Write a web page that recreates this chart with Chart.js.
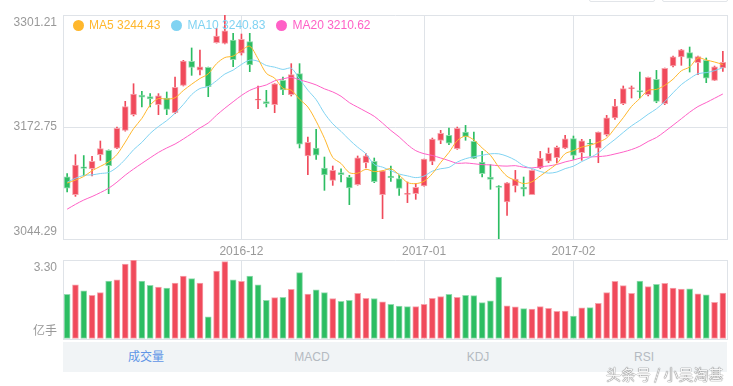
<!DOCTYPE html>
<html>
<head>
<meta charset="utf-8">
<title>K线</title>
<script src="https://cdn.jsdelivr.net/npm/chart.js@4.4.1/dist/chart.umd.min.js"></script>
<style>
  html, body { margin: 0; padding: 0; background: #fff; }
  body {
    width: 733px; height: 386px; position: relative; overflow: hidden;
    font-family: Arial, 'Liberation Sans', 'Noto Sans CJK SC', sans-serif;
  }
  #priceWrap { position: absolute; left: 0; top: 0; width: 733px; height: 258px; }
  #volWrap { position: absolute; left: 0; top: 256px; width: 733px; height: 86px; }
  #legend {
    position: absolute; left: 73px; top: 18px; display: flex;
    font-size: 12px; line-height: 14px; white-space: nowrap;
  }
  #legend .item { display: flex; align-items: center; margin-right: 11px; }
  #legend .dot { width: 11px; height: 11px; border-radius: 50%; margin-right: 5px; }
  #tabs {
    position: absolute; left: 63px; top: 342px; width: 664px; height: 30px;
    background: #f1f4f6; display: flex;
  }
  #tabs span {
    flex: 1; text-align: center; line-height: 30px; font-size: 12px; color: #b4bac1;
  }
  #tabs span.active { color: #6095e6; }
  .btn {
    position: absolute; top: -20px; width: 64px; height: 20px;
    border: 1px solid #e2e5e9; border-radius: 2px; background: #fff;
  }
  #mark {
    position: absolute; left: 606px; top: 365px; font-size: 15px; line-height: 18px;
    color: rgba(255, 255, 255, 0.95);
    text-shadow: 0 0 1px rgba(0, 0, 0, 0.6), 0 0 1px rgba(0, 0, 0, 0.6);
    font-family: 'Noto Sans CJK SC', sans-serif; white-space: nowrap;
  }
</style>
</head>
<body>
<div class="btn" style="left:589px"></div>
<div class="btn" style="left:662px"></div>
<div id="priceWrap"><canvas id="priceChart"></canvas></div>
<div id="volWrap"><canvas id="volumeChart"></canvas></div>
<div id="legend"></div>
<div id="tabs"><span class="active">成交量</span><span>MACD</span><span>KDJ</span><span>RSI</span></div>
<div id="mark">头条号 / 小吴淘基</div>

<script>
// trading days shown (2016-11-02 .. 2017-03-01)
const dates = [
    '2016-11-02', '2016-11-03', '2016-11-04', '2016-11-07', '2016-11-08', '2016-11-09', '2016-11-10', '2016-11-11', '2016-11-14', '2016-11-15',
    '2016-11-16', '2016-11-17', '2016-11-18', '2016-11-21', '2016-11-22', '2016-11-23', '2016-11-24', '2016-11-25', '2016-11-28', '2016-11-29',
    '2016-11-30', '2016-12-01', '2016-12-02', '2016-12-05', '2016-12-06', '2016-12-07', '2016-12-08', '2016-12-09', '2016-12-12', '2016-12-13',
    '2016-12-14', '2016-12-15', '2016-12-16', '2016-12-19', '2016-12-20', '2016-12-21', '2016-12-22', '2016-12-23', '2016-12-26', '2016-12-27',
    '2016-12-28', '2016-12-29', '2016-12-30', '2017-01-03', '2017-01-04', '2017-01-05', '2017-01-06', '2017-01-09', '2017-01-10', '2017-01-11',
    '2017-01-12', '2017-01-13', '2017-01-16', '2017-01-17', '2017-01-18', '2017-01-19', '2017-01-20', '2017-01-23', '2017-01-24', '2017-01-25',
    '2017-01-26', '2017-02-03', '2017-02-06', '2017-02-07', '2017-02-08', '2017-02-09', '2017-02-10', '2017-02-13', '2017-02-14', '2017-02-15',
    '2017-02-16', '2017-02-17', '2017-02-20', '2017-02-21', '2017-02-22', '2017-02-23', '2017-02-24', '2017-02-27', '2017-02-28', '2017-03-01'
];

const opens = [
    3115.5, 3095.1, 3127.0, 3124.9, 3141.0, 3145.9, 3148.6, 3168.9, 3186.9, 3209.5,
    3207.5, 3198.4, 3206.0, 3189.2, 3220.5, 3248.0, 3238.0, 3241.2, 3269.4, 3268.7,
    3272.5, 3257.3, 3270.6, 3203.5, 3201.8, 3198.4, 3226.3, 3209.8, 3233.9, 3139.5,
    3148.7, 3125.7, 3111.6, 3120.5, 3115.4, 3106.6, 3131.8, 3133.4, 3095.1, 3116.6,
    3113.5, 3095.5, 3096.3, 3105.1, 3133.4, 3157.5, 3163.2, 3147.9, 3167.0, 3156.3,
    3132.6, 3115.4, 3105.1, 3086.7, 3105.1, 3103.9, 3095.1, 3125.7, 3133.7, 3137.6,
    3148.6, 3159.4, 3143.3, 3154.2, 3148.6, 3163.9, 3183.1, 3199.5, 3216.7, 3214.5,
    3209.8, 3227.4, 3199.5, 3242.7, 3253.0, 3258.0, 3246.5, 3249.2, 3226.3, 3240.4
];
const highs = [
    3119.2, 3141.0, 3140.0, 3139.1, 3156.7, 3146.5, 3172.7, 3202.2, 3222.4, 3213.6,
    3211.0, 3211.0, 3212.9, 3230.1, 3249.2, 3263.4, 3261.1, 3241.5, 3285.9, 3301.21,
    3280.2, 3279.4, 3280.2, 3219.8, 3214.8, 3222.5, 3230.1, 3245.4, 3245.4, 3161.3,
    3170.1, 3138.3, 3128.0, 3124.9, 3117.3, 3139.5, 3142.2, 3137.2, 3122.6, 3128.0,
    3117.3, 3109.7, 3107.8, 3136.0, 3160.1, 3168.9, 3171.6, 3172.7, 3174.6, 3167.0,
    3144.8, 3129.5, 3105.5, 3109.0, 3123.0, 3115.4, 3123.5, 3144.8, 3148.7, 3151.0,
    3163.2, 3162.4, 3158.6, 3158.6, 3167.0, 3186.1, 3204.5, 3219.8, 3219.8, 3235.8,
    3230.1, 3237.7, 3240.4, 3254.2, 3261.8, 3264.5, 3254.2, 3251.9, 3242.7, 3259.5
];
const lows = [
    3098.2, 3093.2, 3117.0, 3116.6, 3134.5, 3096.3, 3147.9, 3168.0, 3185.4, 3195.7,
    3195.7, 3186.9, 3186.9, 3188.0, 3219.8, 3232.0, 3232.4, 3207.5, 3269.0, 3268.0,
    3241.9, 3255.3, 3236.2, 3193.8, 3195.7, 3189.2, 3209.8, 3208.3, 3148.7, 3118.1,
    3135.6, 3100.1, 3105.8, 3109.7, 3083.7, 3106.0, 3125.7, 3108.9, 3067.6, 3110.4,
    3094.4, 3086.0, 3089.8, 3105.0, 3129.5, 3153.6, 3152.5, 3147.1, 3157.5, 3136.4,
    3115.4, 3101.3, 3044.29, 3071.4, 3098.2, 3093.6, 3095.0, 3124.9, 3131.8, 3131.8,
    3147.9, 3135.6, 3134.5, 3139.5, 3131.8, 3162.4, 3181.5, 3198.4, 3206.0, 3206.0,
    3208.3, 3200.6, 3198.4, 3241.6, 3243.5, 3235.8, 3232.8, 3223.6, 3226.0, 3236.6
];
const closes = [
    3102.73, 3128.94, 3125.32, 3133.33, 3147.89, 3128.37, 3171.28, 3196.04, 3210.37, 3206.99,
    3205.06, 3208.45, 3192.86, 3218.15, 3248.35, 3241.14, 3241.74, 3219.00, 3277.00, 3282.92,
    3250.03, 3273.31, 3243.84, 3204.71, 3199.65, 3222.24, 3215.37, 3232.88, 3152.97, 3155.04,
    3140.53, 3117.68, 3122.98, 3118.08, 3102.88, 3137.43, 3139.56, 3110.15, 3122.57, 3114.66,
    3102.24, 3096.10, 3103.64, 3135.92, 3158.79, 3165.41, 3154.32, 3171.24, 3161.67, 3136.75,
    3119.29, 3112.76, 3103.43, 3108.77, 3113.01, 3101.30, 3123.14, 3136.77, 3142.55, 3149.55,
    3159.17, 3140.17, 3156.98, 3153.09, 3166.98, 3183.18, 3196.70, 3216.84, 3217.93, 3212.99,
    3229.62, 3202.08, 3239.96, 3253.33, 3261.22, 3251.38, 3253.43, 3228.66, 3241.73, 3246.93
];

const ma5 = [
    3108.5, 3111.8, 3116.0, 3122.6, 3127.6, 3132.8, 3141.2, 3155.4, 3170.8, 3182.6,
    3197.9, 3205.4, 3204.7, 3206.3, 3214.6, 3221.8, 3228.4, 3233.7, 3245.4, 3252.4,
    3254.1, 3260.5, 3265.4, 3251.0, 3234.3, 3228.8, 3217.2, 3215.0, 3204.6, 3195.7,
    3179.4, 3159.8, 3137.8, 3130.9, 3120.4, 3119.8, 3124.2, 3121.6, 3122.5, 3124.9,
    3117.8, 3109.1, 3107.8, 3110.5, 3119.3, 3132.0, 3143.6, 3157.1, 3162.3, 3157.9,
    3148.7, 3140.3, 3126.8, 3116.2, 3111.5, 3107.9, 3109.9, 3116.6, 3123.4, 3130.7,
    3142.2, 3145.6, 3149.7, 3151.8, 3155.3, 3160.1, 3171.4, 3183.4, 3196.3, 3205.5,
    3214.8, 3215.9, 3220.5, 3227.6, 3237.2, 3241.6, 3251.9, 3249.6, 3247.3, 3244.43
];
const ma10 = [
    3109.4, 3113.9, 3117.3, 3117.8, 3119.4, 3120.6, 3126.5, 3135.7, 3146.7, 3155.1,
    3165.4, 3173.3, 3180.1, 3188.5, 3198.6, 3209.9, 3216.9, 3219.2, 3225.9, 3233.5,
    3238.0, 3244.5, 3249.5, 3248.2, 3243.3, 3241.4, 3238.8, 3240.2, 3227.8, 3215.0,
    3204.1, 3188.5, 3176.4, 3167.7, 3158.1, 3149.6, 3142.0, 3129.7, 3126.7, 3122.7,
    3118.8, 3116.7, 3114.7, 3116.5, 3122.1, 3124.9, 3126.4, 3132.5, 3136.4, 3138.6,
    3140.3, 3142.0, 3142.0, 3139.2, 3134.7, 3128.3, 3125.1, 3121.7, 3119.8, 3121.1,
    3125.0, 3127.8, 3133.1, 3137.6, 3143.0, 3151.2, 3158.5, 3166.5, 3174.1, 3180.4,
    3187.4, 3193.6, 3201.9, 3212.0, 3221.4, 3228.2, 3233.9, 3235.1, 3237.4, 3240.83
];
const ma20 = [
    3078.5, 3084.0, 3089.0, 3093.0, 3097.5, 3102.5, 3109.5, 3117.5, 3124.5, 3131.0,
    3137.4, 3143.6, 3148.7, 3153.2, 3159.0, 3165.2, 3171.7, 3177.4, 3186.3, 3194.3,
    3201.7, 3208.9, 3214.8, 3218.4, 3221.0, 3225.7, 3227.9, 3229.7, 3226.8, 3224.2,
    3221.0, 3216.5, 3213.0, 3208.0, 3200.7, 3195.5, 3190.4, 3185.0, 3177.2, 3168.8,
    3161.4, 3152.6, 3145.6, 3142.1, 3140.1, 3137.2, 3134.2, 3131.1, 3131.5, 3130.6,
    3129.6, 3129.3, 3128.3, 3127.9, 3128.4, 3126.6, 3125.8, 3127.1, 3128.1, 3129.8,
    3132.7, 3134.9, 3137.5, 3138.4, 3138.8, 3139.7, 3141.8, 3144.1, 3146.9, 3150.7,
    3156.2, 3160.7, 3167.5, 3174.8, 3182.2, 3189.7, 3196.2, 3200.8, 3205.7, 3210.62
];

// volume, 亿手
const volumes = [
    1.87, 2.26, 2.01, 1.82, 1.94, 2.42, 2.47, 3.13, 3.30, 2.42,
    2.24, 2.17, 2.13, 2.34, 2.63, 2.52, 2.34, 0.93, 2.84, 3.23,
    2.47, 2.41, 2.63, 2.26, 1.62, 1.73, 1.74, 2.08, 2.77, 1.88,
    2.05, 1.94, 1.69, 1.57, 1.62, 1.91, 1.70, 1.69, 1.55, 1.45,
    1.38, 1.35, 1.35, 1.45, 1.70, 1.77, 1.87, 1.74, 1.82, 1.81,
    1.52, 1.59, 2.59, 1.39, 1.34, 1.27, 1.25, 1.35, 1.28, 1.16,
    1.17, 0.96, 1.30, 1.31, 1.49, 1.94, 2.41, 2.23, 1.91, 2.42,
    2.19, 2.28, 2.33, 2.13, 2.09, 2.10, 1.89, 1.85, 1.53, 1.92
];

const priceTicks = [3044.29, 3172.75, 3301.21];
const volumeTicks = [0, 3.30];
const volumeUnit = '亿手';
const monthTicks = ['2016-12-01', '2017-01-03', '2017-02-03'];
const maNames = ['MA5', 'MA10', 'MA20'];

document.addEventListener('DOMContentLoaded', () => {
    const UP = '#f04a5b', DOWN = '#2cbd62';
    const UP_EDGE = '#f7a3ac', DOWN_EDGE = '#93dcb0';
    const MA_COLORS = ['#ffb72c', '#80d3f2', '#ff60c6'];
    const GRID = '#dfe3e8';
    const LABEL = '#999999';

    Chart.defaults.font.family = "Arial, 'Liberation Sans', 'Noto Sans CJK SC', sans-serif";
    Chart.defaults.font.size = 12;
    Chart.defaults.animation = false;

    const candleUp = dates.map((d, i) => closes[i] >= opens[i]);
    // volume bars follow the change against the previous close
    const volUp = dates.map((d, i) => i === 0 ? closes[0] >= opens[0] : closes[i] >= closes[i - 1]);

    const monthGrid = (ctx) => monthTicks.includes(dates[ctx.index]) ? GRID : 'rgba(0,0,0,0)';

    // labels sit inside the panel, so the axis must not reserve room for them
    const fixYAxis = (scale) => {
        scale.width = 63;
        scale.paddingTop = 0;
        scale.paddingBottom = 0;
    };

    const rightBorder = {
        position: 'right',
        grid: { drawOnChartArea: false, drawTicks: false, color: 'rgba(0,0,0,0)' },
        ticks: { display: false },
        border: { color: GRID },
        afterFit(scale) { scale.width = 0; scale.paddingTop = 0; scale.paddingBottom = 0; }
    };

    // price panel
    const maSets = [ma5, ma10, ma20].map((data, k) => ({
        type: 'line',
        label: maNames[k],
        data: data,
        borderColor: MA_COLORS[k],
        borderWidth: 1,
        pointRadius: 0,
        tension: 0.3,
        order: 0
    }));

    new Chart(document.getElementById('priceChart'), {
        type: 'bar',
        data: {
            labels: dates,
            datasets: [
                ...maSets,
                {
                    label: 'body',
                    data: dates.map((d, i) => [opens[i], closes[i]]),
                    backgroundColor: candleUp.map(u => u ? UP : DOWN),
                    borderColor: candleUp.map(u => u ? UP_EDGE : DOWN_EDGE),
                    borderWidth: 1,
                    borderSkipped: false,
                    barThickness: 6,
                    minBarLength: 1,
                    grouped: false,
                    order: 1
                },
                {
                    label: 'wick',
                    data: dates.map((d, i) => [lows[i], highs[i]]),
                    backgroundColor: candleUp.map(u => u ? UP : DOWN),
                    barThickness: 1,
                    grouped: false,
                    order: 2
                }
            ]
        },
        options: {
            responsive: true,
            maintainAspectRatio: false,
            layout: { padding: { top: 15, right: 6, left: 0, bottom: 0 } },
            plugins: { legend: { display: false }, tooltip: { enabled: false } },
            scales: {
                x: {
                    offset: true,
                    grid: { offset: false, drawTicks: false, color: monthGrid },
                    border: { color: GRID },
                    ticks: {
                        autoSkip: false,
                        maxRotation: 0,
                        padding: 5,
                        color: LABEL,
                        callback(value, index) {
                            return monthTicks.includes(dates[index]) ? dates[index].slice(0, 7) : '';
                        }
                    },
                    afterFit(scale) { scale.height = 19; }
                },
                y: {
                    min: priceTicks[0],
                    max: priceTicks[priceTicks.length - 1],
                    afterBuildTicks(scale) { scale.ticks = priceTicks.map(v => ({ value: v })); },
                    grid: { color: GRID, drawTicks: false },
                    border: { color: GRID },
                    ticks: {
                        padding: 6,
                        color: LABEL,
                        callback(value) {
                            const txt = value.toFixed(2);
                            if (value === priceTicks[priceTicks.length - 1]) return ['', txt];
                            if (value === priceTicks[0]) return [txt, ''];
                            return txt;
                        }
                    },
                    afterFit: fixYAxis
                },
                yr: rightBorder
            }
        }
    });

    // volume panel
    new Chart(document.getElementById('volumeChart'), {
        type: 'bar',
        data: {
            labels: dates,
            datasets: [{
                label: 'volume',
                data: volumes,
                backgroundColor: volUp.map(u => u ? UP : DOWN),
                borderColor: volUp.map(u => u ? UP_EDGE : DOWN_EDGE),
                borderWidth: 1,
                borderSkipped: false,
                barThickness: 6
            }]
        },
        options: {
            responsive: true,
            maintainAspectRatio: false,
            layout: { padding: { top: 4, right: 6, left: 0, bottom: 3 } },
            plugins: { legend: { display: false }, tooltip: { enabled: false } },
            scales: {
                x: {
                    offset: true,
                    grid: { offset: false, drawTicks: false, color: monthGrid },
                    border: { color: GRID },
                    ticks: { display: false, autoSkip: false },
                    afterFit(scale) { scale.height = 0; }
                },
                y: {
                    min: volumeTicks[0],
                    max: volumeTicks[1],
                    afterBuildTicks(scale) { scale.ticks = volumeTicks.map(v => ({ value: v })); },
                    grid: { color: GRID, drawTicks: false },
                    border: { color: GRID },
                    ticks: {
                        padding: 6,
                        color: LABEL,
                        callback(value) {
                            return value === volumeTicks[0] ? [volumeUnit, ''] : ['', value.toFixed(2)];
                        }
                    },
                    afterFit: fixYAxis
                },
                yr: rightBorder
            }
        }
    });

    // legend with the latest MA values
    const legend = document.getElementById('legend');
    legend.innerHTML = [ma5, ma10, ma20].map((data, k) =>
        `<span class="item" style="color:${MA_COLORS[k]}"><span class="dot" style="background:${MA_COLORS[k]}"></span>${maNames[k]} ${data[data.length - 1].toFixed(2)}</span>`
    ).join('');
});
</script>
</body>
</html>
